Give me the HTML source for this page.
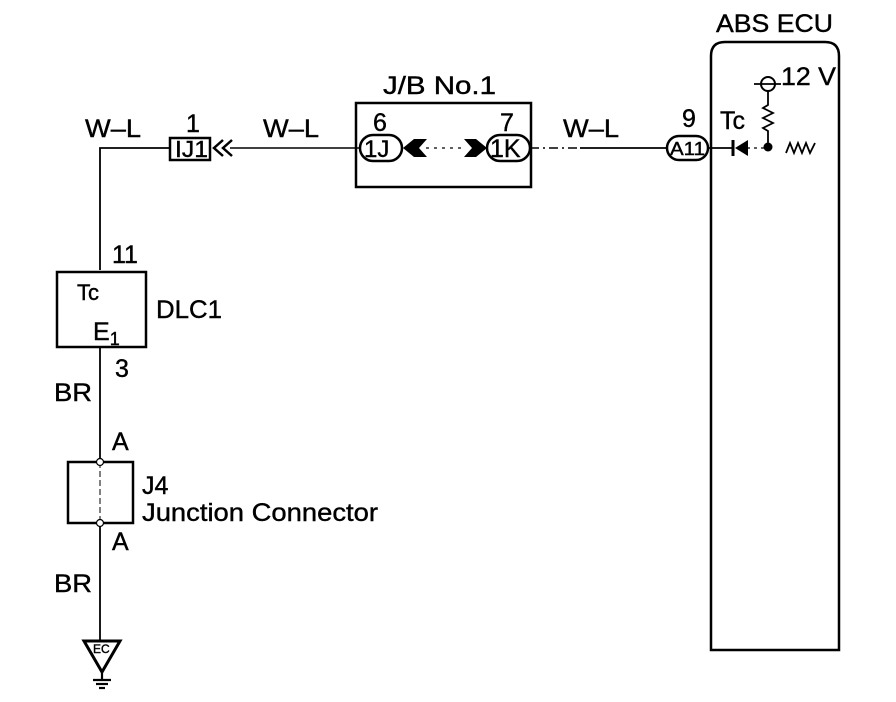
<!DOCTYPE html>
<html><head><meta charset="utf-8"><style>body{margin:0;background:#fff}svg{display:block}text{font-family:"Liberation Sans",sans-serif;fill:#000;stroke:#000;stroke-width:0.4}</style></head><body>
<svg width="896" height="702" viewBox="0 0 896 702" xmlns="http://www.w3.org/2000/svg">
<g stroke="#000" fill="none" stroke-width="2.2">
<path d="M711 650 V56 Q711 42 725 42 H825 Q839 42 839 56 V650 Z" stroke-width="2.5"/>
<polyline points="100,270 100,148 170,148" stroke-width="1.8"/>
<rect x="170" y="138" width="40" height="22" stroke-width="2.5"/>
<path d="M223 140 L214 148 L223 156 M232 140 L223 148 L232 156" stroke-width="2.5"/>
<line x1="230" y1="148" x2="360" y2="148" stroke-width="1.5"/>
<rect x="356" y="103" width="175" height="84" stroke-width="2.5"/>
<rect x="360" y="135" width="42" height="26" rx="13" stroke-width="2.5"/>
<rect x="487" y="135" width="43" height="26" rx="13" stroke-width="2.5"/>
<line x1="426" y1="148" x2="464" y2="148" stroke-width="1.2" stroke-dasharray="3,5"/>
<line x1="530" y1="148" x2="580" y2="148" stroke-width="1.5" stroke-dasharray="9,4,2,4"/>
<line x1="580" y1="148" x2="667" y2="148" stroke-width="1.8"/>
<rect x="667" y="136" width="41" height="24" rx="12" stroke-width="2.5"/>
<line x1="708" y1="148" x2="733" y2="148" stroke-width="1.8"/>
<line x1="747" y1="148" x2="764" y2="148" stroke-width="1.2" stroke-dasharray="3,4"/>
<line x1="733" y1="140" x2="733" y2="156" stroke-width="3"/>
<circle cx="768" cy="84" r="7" stroke-width="2"/>
<line x1="754" y1="84" x2="781" y2="84" stroke-width="1.8"/>
<polyline points="768,91 768,105 763,108 773,113 763,118 773,123 763,128 768,131 768,146" stroke-width="1.8"/>
<polyline points="786,153 790,143 794,153 798,143 802,153 806,143 810,153 815,143" stroke-width="1.8"/>
<rect x="57" y="272" width="89" height="75" stroke-width="2.5"/>
<line x1="100" y1="347" x2="100" y2="462" stroke-width="1.8"/>
<rect x="68" y="462" width="65" height="61" stroke-width="2.5"/>
<line x1="100" y1="462" x2="100" y2="523" stroke-width="1" stroke-dasharray="6,3"/>
<line x1="100" y1="523" x2="100" y2="640" stroke-width="1.8"/>
<path d="M84 641 L120 641 L102 672 Z" stroke-width="3"/>
<line x1="102" y1="672" x2="102" y2="680"/>
<line x1="93" y1="680" x2="111" y2="680"/>
<line x1="96" y1="684" x2="108" y2="684"/>
<line x1="99" y1="688" x2="105" y2="688"/>
</g>
<circle cx="100" cy="462" r="3.5" fill="#fff" stroke="#000" stroke-width="1.2"/>
<circle cx="100" cy="523" r="3.5" fill="#fff" stroke="#000" stroke-width="1.2"/>
<path d="M403 148 L414 139 L427 139 L419 148 L427 157 L414 157 Z" fill="#000"/>
<path d="M464 139 L476 139 L487 148 L476 157 L464 157 L472 148 Z" fill="#000"/>
<path d="M748 140 L735 148 L748 156 Z" fill="#000"/>
<circle cx="768" cy="147" r="4.5" fill="#000"/>
<g font-size="25">
<text x="716" y="32" textLength="117" lengthAdjust="spacingAndGlyphs">ABS ECU</text>
<text x="781" y="85" textLength="55" lengthAdjust="spacingAndGlyphs">12 V</text>
<text x="720" y="129">Tc</text>
<text x="682" y="127">9</text>
<text x="563" y="137" textLength="56" lengthAdjust="spacingAndGlyphs">W–L</text>
<text x="383" y="94" textLength="113" lengthAdjust="spacingAndGlyphs">J/B No.1</text>
<text x="373" y="131">6</text>
<text x="500" y="131">7</text>
<text x="85" y="137" textLength="56" lengthAdjust="spacingAndGlyphs">W–L</text>
<text x="263" y="137" textLength="56" lengthAdjust="spacingAndGlyphs">W–L</text>
<text x="186" y="132">1</text>
<text x="112" y="263">11</text>
<text x="156" y="318" textLength="66" lengthAdjust="spacingAndGlyphs">DLC1</text>
<text x="115" y="377">3</text>
<text x="54" y="401" textLength="38" lengthAdjust="spacingAndGlyphs">BR</text>
<text x="112" y="450">A</text>
<text x="142" y="494">J4</text>
<text x="142" y="521" textLength="236" lengthAdjust="spacingAndGlyphs">Junction Connector</text>
<text x="112" y="550">A</text>
<text x="54" y="592" textLength="38" lengthAdjust="spacingAndGlyphs">BR</text>
<text x="93" y="340">E<tspan font-size="18" dy="5">1</tspan></text>
</g>
<text x="77" y="300" font-size="22">Tc</text>
<text x="175" y="157" font-size="23" textLength="33" lengthAdjust="spacingAndGlyphs">IJ1</text>
<text x="364" y="157" font-size="24">1J</text>
<text x="490" y="157" font-size="25">1K</text>
<text x="670" y="155" font-size="18" textLength="35" lengthAdjust="spacingAndGlyphs">A11</text>
<text x="93" y="653" font-size="12">EC</text>
</svg>
</body></html>
